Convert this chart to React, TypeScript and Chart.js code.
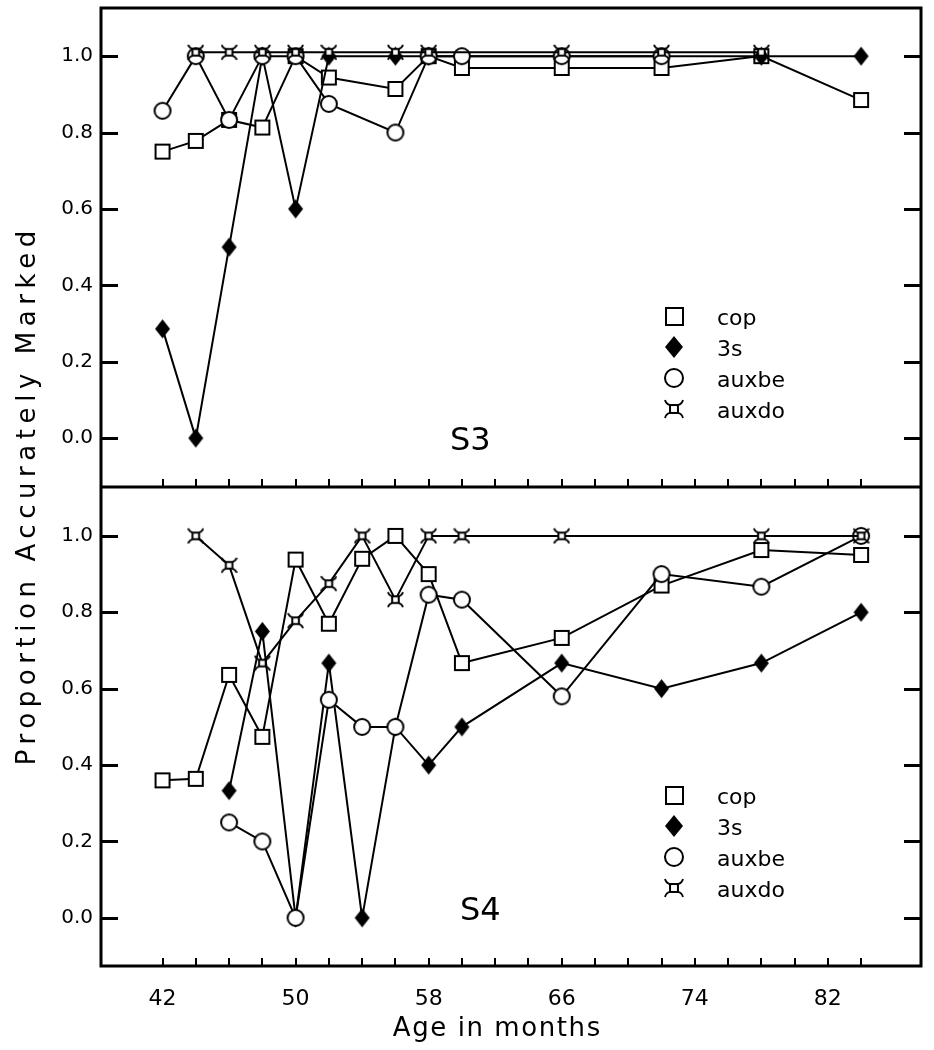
import React, { useEffect, useRef } from 'react';
import { Chart, registerables } from 'chart.js';

Chart.register(...registerables);

// ---------- DATA ----------
// S3 panel (top)
const S3_COP_AGES = [42, 44, 46, 48, 50, 52, 56, 58, 60, 66, 72, 78, 84];
const S3_COP_VALS = [0.75, 0.778, 0.833, 0.813, 1.0, 0.944, 0.914, 1.0, 0.969, 0.969, 0.969, 1.0, 0.885];
const S3_3S_AGES = [42, 44, 46, 48, 50, 52, 56, 58, 78, 84];
const S3_3S_VALS = [0.286, 0.0, 0.5, 1.0, 0.6, 1.0, 1.0, 1.0, 1.0, 1.0];
const S3_AUXBE_AGES = [42, 44, 46, 48, 50, 52, 56, 58, 60, 66, 72];
const S3_AUXBE_VALS = [0.857, 1.0, 0.833, 1.0, 1.0, 0.875, 0.8, 1.0, 1.0, 1.0, 1.0];
const S3_AUXDO_AGES = [44, 46, 48, 50, 52, 56, 58, 66, 72, 78];
const S3_AUXDO_VALS = [1.01, 1.01, 1.01, 1.01, 1.01, 1.01, 1.01, 1.01, 1.01, 1.01];

// S4 panel (bottom)
const S4_COP_AGES = [42, 44, 46, 48, 50, 52, 54, 56, 58, 60, 66, 72, 78, 84];
const S4_COP_VALS = [0.36, 0.364, 0.636, 0.474, 0.938, 0.77, 0.94, 1.0, 0.9, 0.667, 0.733, 0.87, 0.963, 0.95];
const S4_3S_AGES = [46, 48, 50, 52, 54, 56, 58, 60, 66, 72, 78, 84];
const S4_3S_VALS = [0.333, 0.75, 0.0, 0.667, 0.0, 0.5, 0.4, 0.5, 0.667, 0.6, 0.667, 0.8];
const S4_AUXBE_AGES = [46, 48, 50, 52, 54, 56, 58, 60, 66, 72, 78, 84];
const S4_AUXBE_VALS = [0.25, 0.2, 0.0, 0.571, 0.5, 0.5, 0.846, 0.833, 0.58, 0.9, 0.867, 1.0];
const S4_AUXDO_AGES = [44, 46, 48, 50, 52, 54, 56, 58, 60, 66, 78, 84];
const S4_AUXDO_VALS = [1.0, 0.923, 0.667, 0.778, 0.875, 1.0, 0.833, 1.0, 1.0, 1.0, 1.0, 1.0];

const SERIES_NAMES = ['cop', '3s', 'auxbe', 'auxdo'];
const PANEL_LABELS = ['S3', 'S4'];
const X_LABEL_TICKS = [42, 50, 58, 66, 74, 82];
const X_MINOR_TICKS = [42, 44, 46, 48, 50, 52, 54, 56, 58, 60, 62, 64, 66, 68, 70, 72, 74, 76, 78, 80, 82, 84];
const Y_TICKS = [0.0, 0.2, 0.4, 0.6, 0.8, 1.0];
const X_TITLE = 'Age in months';
const Y_TITLE = 'Proportion Accurately Marked';

// ---------- MARKERS ----------
function makeCanvas(w: number, h: number, draw: (ctx: CanvasRenderingContext2D) => void) {
  const c = document.createElement('canvas');
  c.width = w;
  c.height = h;
  const ctx = c.getContext('2d')!;
  draw(ctx);
  return c;
}

function squareMarker(s: number) {
  const p = 2;
  return makeCanvas(s + p * 2, s + p * 2, (ctx) => {
    ctx.fillStyle = '#fff';
    ctx.fillRect(p, p, s, s);
    ctx.lineWidth = 2;
    ctx.strokeStyle = '#000';
    ctx.strokeRect(p, p, s, s);
  });
}

function diamondMarker(w: number, h: number) {
  return makeCanvas(w + 2, h + 2, (ctx) => {
    ctx.fillStyle = '#000';
    ctx.beginPath();
    ctx.moveTo((w + 2) / 2, 1);
    ctx.lineTo(w + 1, (h + 2) / 2);
    ctx.lineTo((w + 2) / 2, h + 1);
    ctx.lineTo(1, (h + 2) / 2);
    ctx.closePath();
    ctx.fill();
  });
}

function circleMarker(d: number) {
  const S = d + 4;
  return makeCanvas(S, S, (ctx) => {
    ctx.fillStyle = '#fff';
    ctx.strokeStyle = '#000';
    ctx.lineWidth = 2;
    ctx.beginPath();
    ctx.arc(S / 2, S / 2, d / 2, 0, Math.PI * 2);
    ctx.fill();
    ctx.stroke();
  });
}

function auxdoMarker(s: number) {
  const S = s + 2;
  return makeCanvas(S, S, (ctx) => {
    const c = S / 2;
    const h = s * 0.22;
    ctx.strokeStyle = '#000';
    ctx.lineWidth = 2;
    ctx.fillStyle = '#fff';
    ctx.fillRect(c - h, c - h, 2 * h, 2 * h);
    ctx.strokeRect(c - h, c - h, 2 * h, 2 * h);
    ctx.lineWidth = 1.8;
    for (const sx of [-1, 1]) {
      for (const sy of [-1, 1]) {
        ctx.beginPath();
        ctx.moveTo(c + sx * h, c + sy * h);
        ctx.quadraticCurveTo(c + sx * (c - 2), c + sy * (h + 1), c + sx * (c - 1), c + sy * (c - 1));
        ctx.stroke();
      }
    }
  });
}

function zip(xs: number[], ys: number[]) {
  return xs.map((x, i) => ({ x, y: ys[i] }));
}

const FONT = '"DejaVu Sans", "Noto Sans", sans-serif';

function drawSpacedText(ctx: CanvasRenderingContext2D, text: string, target: number) {
  (ctx as any).letterSpacing = '0px';
  const w = ctx.measureText(text).width;
  const ls = (target - w) / text.length;
  (ctx as any).letterSpacing = `${ls}px`;
  ctx.fillText(text, ls / 2, 0);
  (ctx as any).letterSpacing = '0px';
}

export default function App() {
  const ref = useRef<HTMLCanvasElement | null>(null);

  useEffect(() => {
    if (!ref.current) return;
    const dm = {
      cop: squareMarker(14),
      s3: diamondMarker(15, 19),
      auxbe: circleMarker(16),
      auxdo: auxdoMarker(15),
    };
    const lm = [squareMarker(17), diamondMarker(18, 22), circleMarker(18), auxdoMarker(18)];

    const base = {
      showLine: true,
      borderColor: '#000',
      backgroundColor: '#000',
      borderWidth: 2,
      tension: 0,
      pointRadius: 8,
      pointHoverRadius: 8,
      fill: false,
    };

    const framePlugin = {
      id: 'framePlugin',
      afterDraw(chart: any) {
        const ctx: CanvasRenderingContext2D = chart.ctx;
        const area = chart.chartArea;
        const x = chart.scales.x;
        const yTop = chart.scales.yTop;
        const yBot = chart.scales.yBot;
        ctx.save();
        ctx.strokeStyle = '#000';
        ctx.fillStyle = '#000';
        // y ticks inward on both sides
        ctx.lineWidth = 3;
        for (const ys of [yTop, yBot]) {
          for (const v of Y_TICKS) {
            const py = Math.round(ys.getPixelForValue(v)) + 0.5;
            ctx.beginPath();
            ctx.moveTo(area.left, py);
            ctx.lineTo(area.left + 17, py);
            ctx.moveTo(area.right - 17, py);
            ctx.lineTo(area.right, py);
            ctx.stroke();
          }
        }
        // x minor ticks inward at bottom of each panel
        ctx.lineWidth = 2;
        for (const ys of [yTop, yBot]) {
          for (const v of X_MINOR_TICKS) {
            const px = Math.round(x.getPixelForValue(v));
            ctx.beginPath();
            ctx.moveTo(px, ys.bottom);
            ctx.lineTo(px, ys.bottom - 8);
            ctx.stroke();
          }
        }
        // frame and divider
        ctx.lineWidth = 3;
        ctx.strokeRect(area.left, area.top, area.right - area.left, area.bottom - area.top);
        ctx.beginPath();
        ctx.moveTo(area.left, yTop.bottom);
        ctx.lineTo(area.right, yTop.bottom);
        ctx.stroke();

        // legends
        const legendOffsets = [308, 339, 370, 401];
        [yTop, yBot].forEach((ys, pi) => {
          legendOffsets.forEach((off, i) => {
            const cy = ys.top + off;
            const img = lm[i];
            ctx.drawImage(img, Math.round(674 - img.width / 2), Math.round(cy - img.height / 2));
            ctx.font = `22px ${FONT}`;
            ctx.textAlign = 'left';
            ctx.textBaseline = 'alphabetic';
            ctx.fillText(SERIES_NAMES[i], 717, cy + 9);
          });
          ctx.font = `32px ${FONT}`;
          ctx.textAlign = 'left';
          ctx.textBaseline = 'alphabetic';
          ctx.fillText(PANEL_LABELS[pi], pi === 0 ? 450 : 460, ys.top + (pi === 0 ? 442 : 433));
        });

        // axis titles
        ctx.font = `26px ${FONT}`;
        ctx.textAlign = 'left';
        ctx.textBaseline = 'alphabetic';
        ctx.save();
        ctx.translate(35, 768);
        ctx.rotate(-Math.PI / 2);
        drawSpacedText(ctx, Y_TITLE, 540);
        ctx.restore();
        ctx.save();
        ctx.translate(392, 1036);
        drawSpacedText(ctx, X_TITLE, 209);
        ctx.restore();
        ctx.restore();
      },
    };

    const yScale = (min: number, max: number) => ({
      type: 'linear' as const,
      position: 'left' as const,
      stack: 'panels',
      stackWeight: 1,
      min,
      max,
      afterBuildTicks: (s: any) => {
        s.ticks = Y_TICKS.map((v) => ({ value: v }));
      },
      afterFit: (s: any) => {
        s.width = 101;
        s.paddingTop = 0;
        s.paddingBottom = 0;
      },
      grid: { display: false, drawTicks: false },
      border: { display: false },
      ticks: {
        color: '#000',
        padding: 8,
        font: { family: FONT, size: 20 },
        callback: (v: any) => Number(v).toFixed(1),
      },
    });

    const chart = new Chart(ref.current, {
      type: 'scatter',
      data: {
        datasets: [
          { ...base, label: 'auxdo', data: zip(S3_AUXDO_AGES, S3_AUXDO_VALS), yAxisID: 'yTop', pointStyle: dm.auxdo as any, order: 1 },
          { ...base, label: 'auxbe', data: zip(S3_AUXBE_AGES, S3_AUXBE_VALS), yAxisID: 'yTop', pointStyle: dm.auxbe as any, order: 2 },
          { ...base, label: '3s', data: zip(S3_3S_AGES, S3_3S_VALS), yAxisID: 'yTop', pointStyle: dm.s3 as any, order: 3 },
          { ...base, label: 'cop', data: zip(S3_COP_AGES, S3_COP_VALS), yAxisID: 'yTop', pointStyle: dm.cop as any, order: 4 },
          { ...base, label: 'auxdo', data: zip(S4_AUXDO_AGES, S4_AUXDO_VALS), yAxisID: 'yBot', pointStyle: dm.auxdo as any, order: 1 },
          { ...base, label: 'auxbe', data: zip(S4_AUXBE_AGES, S4_AUXBE_VALS), yAxisID: 'yBot', pointStyle: dm.auxbe as any, order: 2 },
          { ...base, label: '3s', data: zip(S4_3S_AGES, S4_3S_VALS), yAxisID: 'yBot', pointStyle: dm.s3 as any, order: 3 },
          { ...base, label: 'cop', data: zip(S4_COP_AGES, S4_COP_VALS), yAxisID: 'yBot', pointStyle: dm.cop as any, order: 4 },
        ],
      },
      options: {
        animation: false,
        responsive: false,
        events: [],
        layout: { autoPadding: false, padding: { top: 8, right: 13, left: 0, bottom: 0 } },
        plugins: { legend: { display: false }, tooltip: { enabled: false } },
        scales: {
          x: {
            type: 'linear',
            position: 'bottom',
            min: 38.3,
            max: 87.6,
            afterBuildTicks: (s: any) => {
              s.ticks = X_LABEL_TICKS.map((v) => ({ value: v }));
            },
            afterFit: (s: any) => {
              s.height = 84;
              s.paddingLeft = 0;
              s.paddingRight = 0;
            },
            grid: { display: false, drawTicks: false },
            border: { display: false },
            ticks: {
              color: '#000',
              padding: 20,
              maxRotation: 0,
              autoSkip: false,
              font: { family: FONT, size: 22 },
            },
          },
          yBot: yScale(-0.126, 1.128),
          yTop: yScale(-0.128, 1.126),
        } as any,
      },
      plugins: [framePlugin],
    });
    return () => chart.destroy();
  }, []);

  return (
    <div style={{ position: 'absolute', left: 0, top: 0, width: 934, height: 1050, background: '#fff' }}>
      <canvas ref={ref} width={934} height={1050} style={{ display: 'block' }} />
    </div>
  );
}
